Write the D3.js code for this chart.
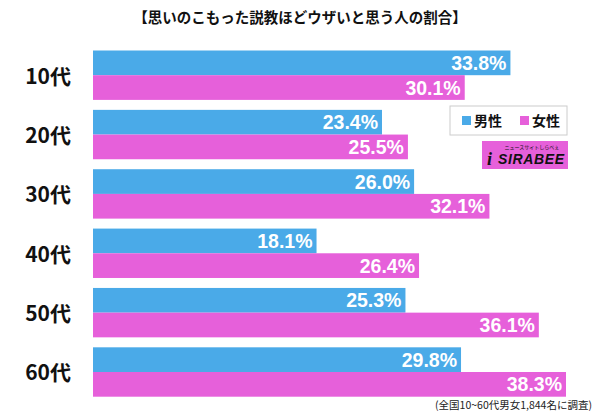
<!DOCTYPE html>
<html><head><meta charset="utf-8">
<script src="https://cdn.jsdelivr.net/npm/d3@7"></script>
<style>body{margin:0;background:#fff;}</style>
</head><body>
<script>
const categories = ["10代","20代","30代","40代","50代","60代"];
const maleValues = [33.8,23.4,26.0,18.1,25.3,29.8];
const femaleValues = [30.1,25.5,32.1,26.4,36.1,38.3];
const seriesNames = ["男性","女性"];
const title = "【思いのこもった説教ほどウザいと思う人の割合】";
const note = "(全国10~60代男女1,844名に調査)";
const colors = ["#4aaae8","#e660da"];
const font = "'Noto Sans CJK JP', 'Noto Sans', sans-serif";

const W=600,H=414;
const svg=d3.select("body").append("svg").attr("width",W).attr("height",H).style("font-family",font);

const x=d3.scaleLinear().domain([0,38.3]).range([93,566]);
const y=d3.scaleBand().domain(categories).range([50.5,396.7]).paddingInner(0.168).paddingOuter(0);
const sub=d3.scaleBand().domain(seriesNames).range([0,y.bandwidth()]);

svg.append("text").attr("x",W/2).attr("y",23).attr("text-anchor","middle")
  .attr("font-size",14.5).attr("font-weight",700).attr("fill","#111").text(title);

const data=categories.map((c,i)=>({c,vals:[maleValues[i],femaleValues[i]]}));
const g=svg.selectAll("g.grp").data(data).join("g").attr("transform",d=>`translate(0,${y(d.c)})`);
g.selectAll("rect").data(d=>d.vals.map((v,j)=>({v,s:seriesNames[j],j}))).join("rect")
  .attr("x",x(0)).attr("y",d=>sub(d.s)).attr("width",d=>x(d.v)-x(0)).attr("height",sub.bandwidth())
  .attr("fill",d=>colors[d.j]);
g.selectAll("text.val").data(d=>d.vals.map((v,j)=>({v,s:seriesNames[j],j}))).join("text")
  .attr("class","val").attr("x",d=>x(d.v)-4).attr("y",d=>sub(d.s)+sub.bandwidth()/2+7)
  .attr("text-anchor","end").attr("font-size",19.5).attr("font-weight",700).attr("fill","#fff")
  .attr("font-family","'Liberation Sans', Arial, sans-serif")
  .text(d=>d.v.toFixed(1)+"%");
g.append("text").attr("x",71).attr("y",y.bandwidth()/2+8.5).attr("text-anchor","end")
  .attr("font-size",21).attr("font-weight",700).attr("fill","#111").text(d=>d.c);

// legend
const lg=svg.append("g").attr("transform","translate(450,106)");
lg.append("rect").attr("width",117).attr("height",29).attr("fill","#fff").attr("stroke","#ccc").attr("stroke-width",1);
seriesNames.forEach((s,i)=>{
  const ox=12+i*58;
  lg.append("rect").attr("x",ox).attr("y",10).attr("width",9).attr("height",9).attr("fill",colors[i]);
  lg.append("text").attr("x",ox+12).attr("y",20).attr("font-size",14).attr("font-weight",700).attr("fill","#111").text(s);
});

// logo
const lo=svg.append("g").attr("transform","translate(482,141)");
lo.append("rect").attr("width",86).attr("height",28).attr("fill","#e660da");
lo.append("text").attr("x",50).attr("y",8).attr("text-anchor","middle").attr("font-size",5).attr("fill","#111").text("ニュースサイトしらべぇ");
lo.append("text").attr("x",5).attr("y",24).attr("font-size",18).attr("font-weight",700).attr("font-style","italic").attr("fill","#111")
  .attr("font-family","'Liberation Serif', serif").text("i");
lo.append("text").attr("x",16).attr("y",23).attr("font-size",14).attr("font-weight",700).attr("font-style","italic").attr("fill","#111")
  .attr("font-family","'Liberation Sans', Arial, sans-serif").attr("textLength",66).text("SIRABEE");

svg.append("text").attr("x",592).attr("y",409).attr("text-anchor","end").attr("font-size",10.5).attr("fill","#222").text(note);
</script>
</body></html>
